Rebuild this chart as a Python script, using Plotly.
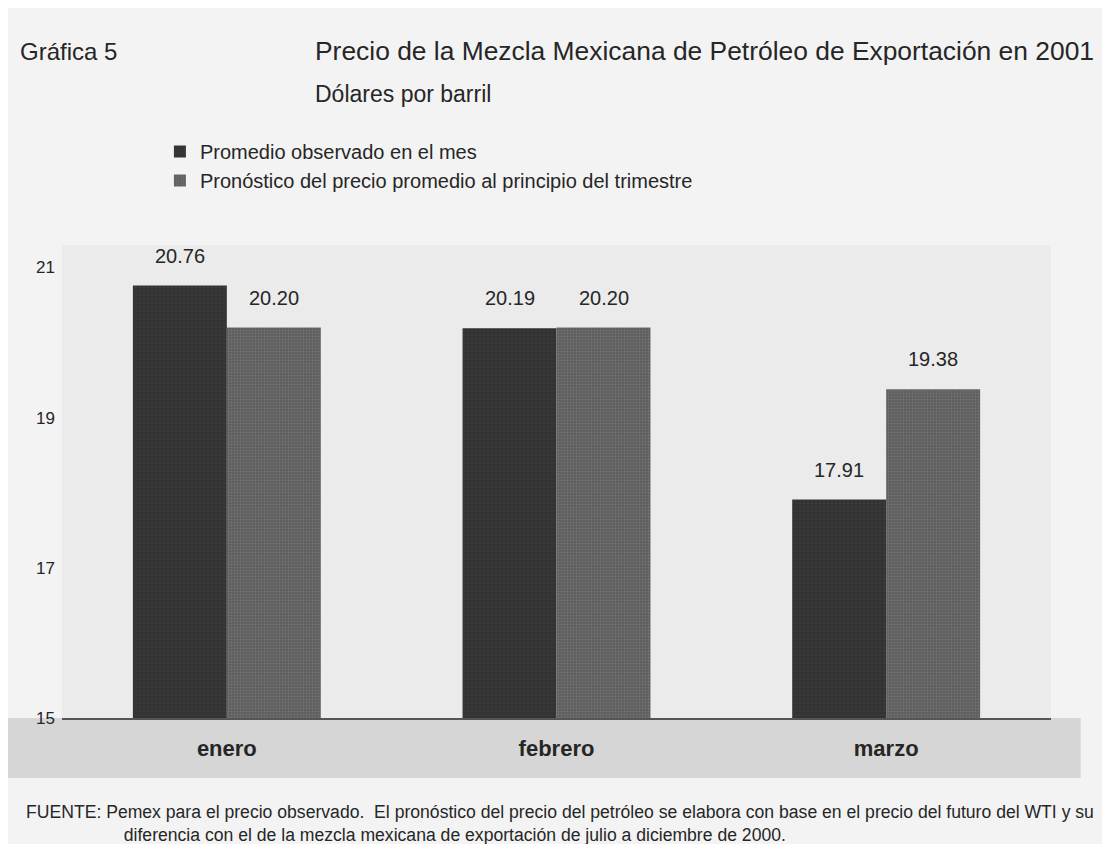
import plotly.graph_objects as go

MESES = ["enero", "febrero", "marzo"]
OBSERVADO = [20.76, 20.19, 17.91]
PRONOSTICO = [20.20, 20.20, 19.38]
Y_TICKS = [15, 17, 19, 21]

FONT = "Liberation Sans, Arial, sans-serif"
TXT = "#262626"

fig = go.Figure()
fig.add_trace(go.Bar(
    x=MESES, y=OBSERVADO,
    name="Promedio observado en el mes",
    marker=dict(color="#333333", line=dict(width=0),
                pattern=dict(shape=".", fgcolor="#4e4e4e", size=4, solidity=0.15)),
))
fig.add_trace(go.Bar(
    x=MESES, y=PRONOSTICO,
    name="Pronóstico del precio promedio al principio del trimestre",
    marker=dict(color="#5e5e5e", line=dict(width=0),
                pattern=dict(shape=".", fgcolor="#8a8a8a", size=3, solidity=0.3)),
))

# etiquetas de valor sobre cada barra
for serie, dx in [(OBSERVADO, -47), (PRONOSTICO, 47)]:
    for mes, v in zip(MESES, serie):
        fig.add_annotation(x=mes, y=v, text=f"{v:.2f}", showarrow=False,
                           xshift=dx, yshift=17, yanchor="bottom",
                           font=dict(size=20, color=TXT, family=FONT))

# banda gris bajo el eje (etiquetas de meses)
fig.add_shape(type="rect", xref="paper", yref="paper",
              x0=-0.06, x1=1.03, y0=-0.127, y1=0,
              fillcolor="#d6d6d6", line=dict(width=0), layer="below")

annots = [
    dict(text="Gráfica 5", x=-0.0445, y=1.4095, size=24),
    dict(text="Precio de la Mezcla Mexicana de Petróleo de Exportación en 2001",
         x=0.254, y=1.4095, size=26.4),
    dict(text="Dólares por barril", x=0.254, y=1.3185, size=23),
]
for a in annots:
    fig.add_annotation(text=a["text"], x=a["x"], y=a["y"], xref="paper", yref="paper",
                       xanchor="left", yanchor="middle", showarrow=False,
                       font=dict(size=a["size"], color=TXT, family=FONT))

fig.add_annotation(
    text="FUENTE: Pemex para el precio observado.  El pronóstico del precio del petróleo se elabora con base en el precio del futuro del WTI y su"
         "<br>                    diferencia con el de la mezcla mexicana de exportación de julio a diciembre de 2000.",
    x=-0.038, y=-0.174, xref="paper", yref="paper", xanchor="left", yanchor="top",
    align="left", showarrow=False, font=dict(size=17.6, color=TXT, family=FONT))

fig.update_layout(
    width=1094, height=836,
    margin=dict(l=54, r=51, t=237, b=126),
    paper_bgcolor="#f3f3f3",
    plot_bgcolor="#ebebeb",
    barmode="group",
    bargap=0.43,
    bargroupgap=0,
    font=dict(family=FONT, color=TXT),
    showlegend=True,
    legend=dict(x=0.099, y=1.167, xanchor="left", yanchor="middle",
                bgcolor="rgba(0,0,0,0)", font=dict(size=20, color=TXT),
                tracegroupgap=2, itemwidth=30),
    xaxis=dict(showgrid=False, showline=True, linecolor="#555555", linewidth=1.5,
               ticks="", ticklabelstandoff=10,
               tickfont=dict(size=22, color=TXT, family="Liberation Sans", weight="bold")),
    yaxis=dict(range=[15, 21.3], tickvals=Y_TICKS, showgrid=False, zeroline=False,
               showline=False, ticks="", ticklabelstandoff=6,
               tickfont=dict(size=17, color=TXT)),
)

fig.write_html("out.html")
